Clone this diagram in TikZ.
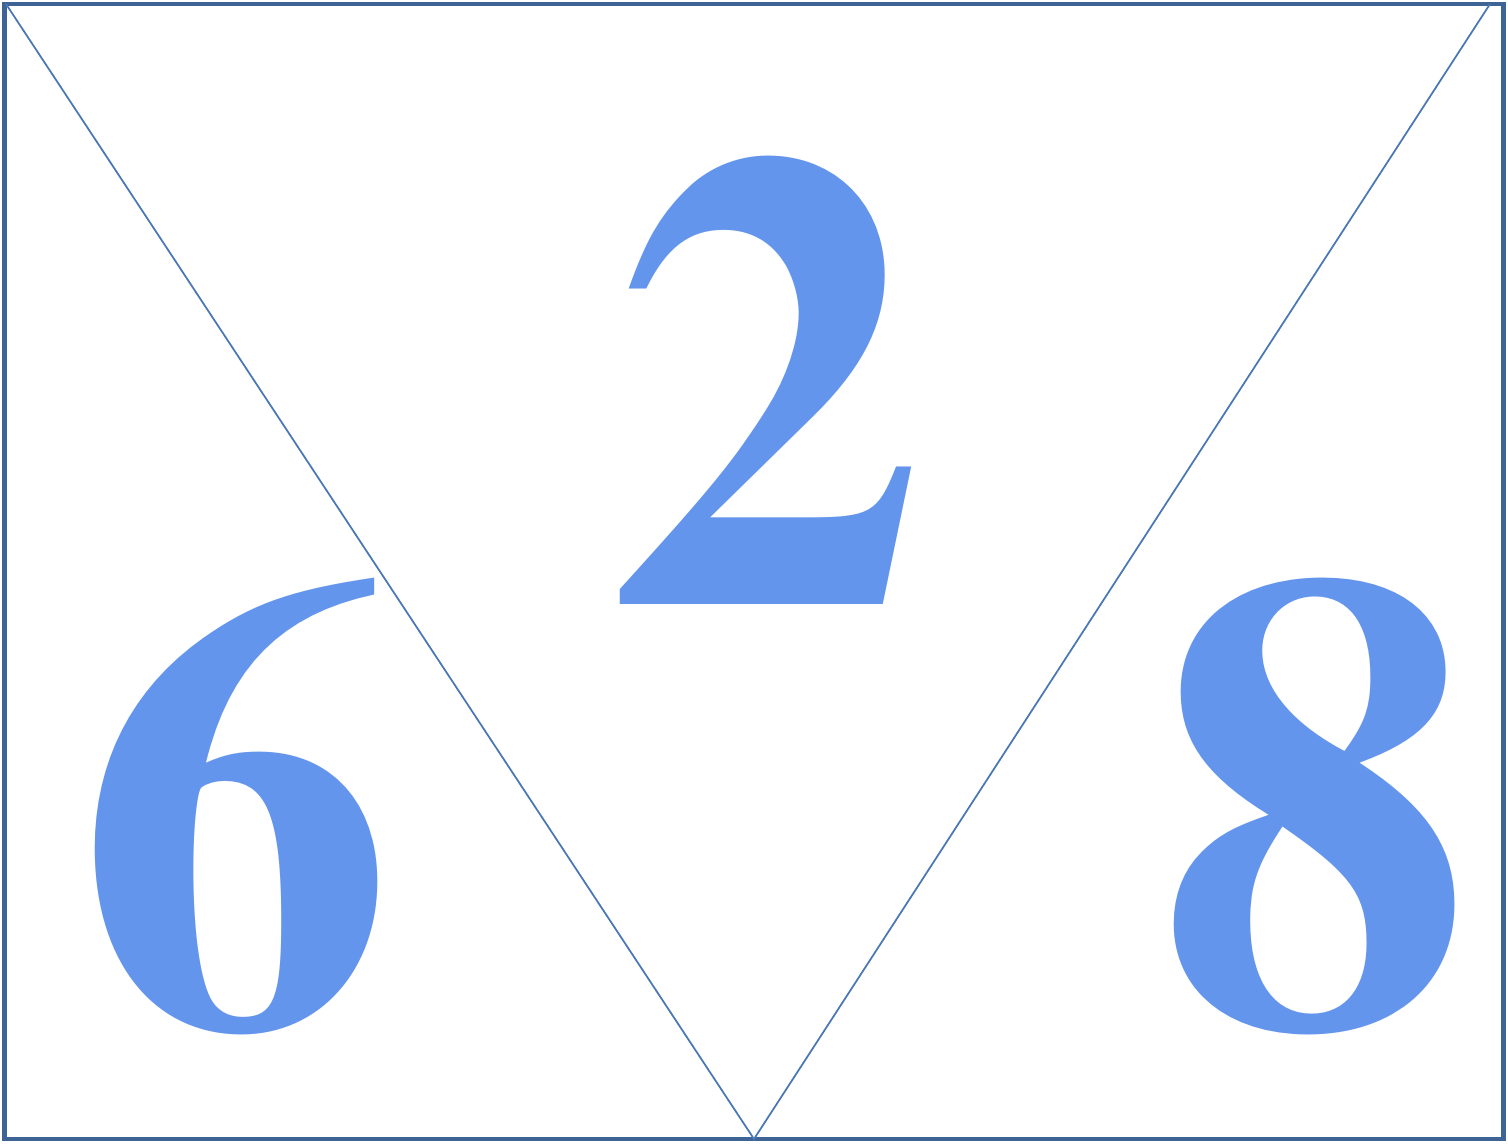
\documentclass[tikz,border=0pt]{standalone}
\usepackage{fontspec}
\setmainfont{TeX Gyre Termes}[FakeStretch=0.97]
\definecolor{FrameBlue}{HTML}{3D6494}
\definecolor{LineBlue}{HTML}{4A78B4}
\definecolor{DigitBlue}{HTML}{6495ED}
\tikzset{
  digit/.style={font=\fontsize{371}{371}\selectfont\bfseries,text=DigitBlue,
    anchor=base,inner sep=0pt},
  frame/.style={draw=FrameBlue,line width=2.3pt},
  split/.style={draw=LineBlue,line width=1pt}
}
\begin{document}
\begin{tikzpicture}[x=0.02cm,y=-0.02cm]
  \useasboundingbox (0,0) rectangle (1508,1143);
  % Corners of the frame and the apex at the bottom
  \coordinate (tl) at (6,4);
  \coordinate (tr) at (1490,4);
  \coordinate (apex) at (754,1139);

  % Digits
  \node[digit] (two) at (768,604) {2};
  \node[digit] (six) at (236,1026) {6};
  \node[digit] (eight) at (1315,1026) {8};

  % Frame and the two slanted lines
  \draw[frame] (4.5,4) rectangle (1503.5,1139);
  \draw[split] (tl) -- (apex) -- (tr);
\end{tikzpicture}
\end{document}
